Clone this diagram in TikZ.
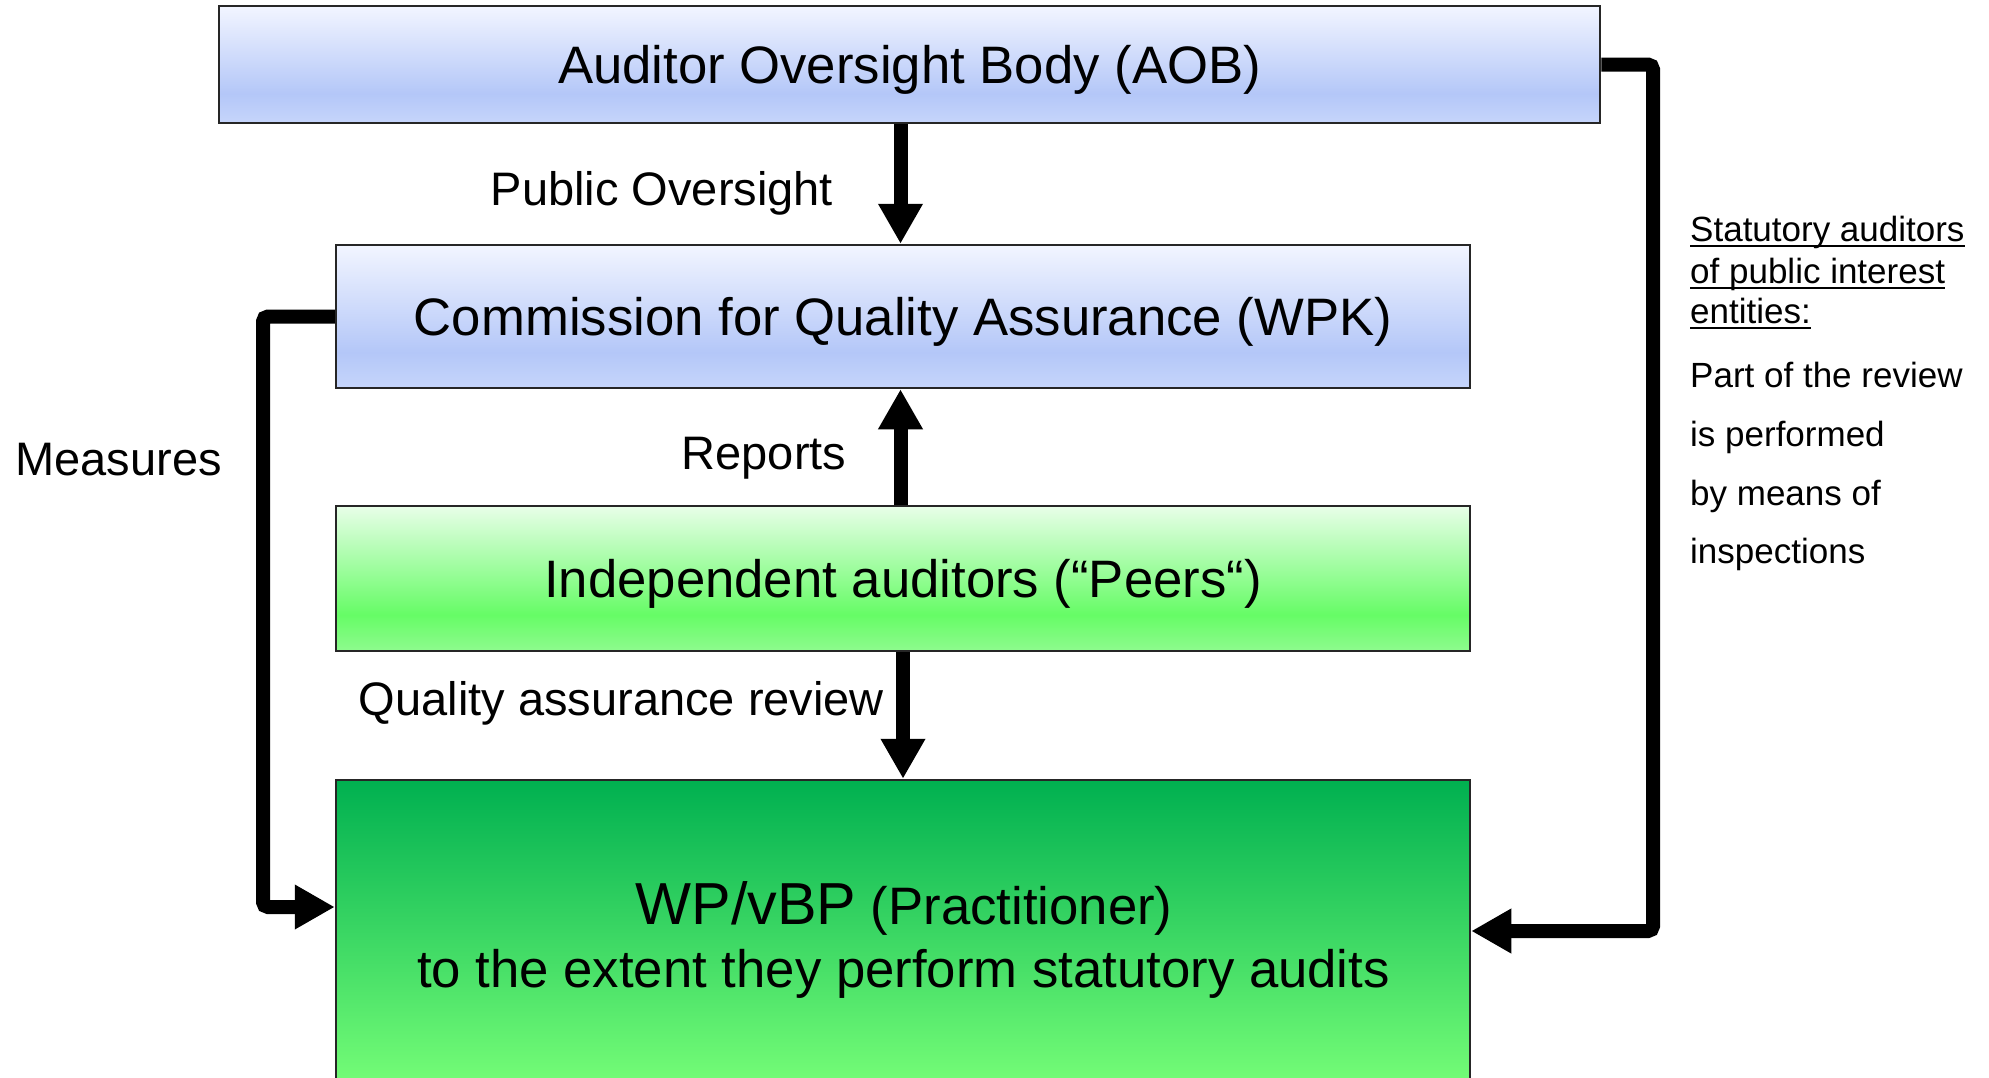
\documentclass[tikz,border=0pt]{standalone}
\usepackage{fontspec}
\setmainfont{Liberation Sans}
\usetikzlibrary{arrows.meta}

% box fills: top of the box is at 75bp, bottom at 25bp
\definecolor{blueTop}{HTML}{F2F5FF}
\definecolor{blueMid}{HTML}{B4C7F8}
\definecolor{blueBot}{HTML}{C6D5FB}
\definecolor{peerTop}{HTML}{E8FEE8}
\definecolor{peerMid}{HTML}{66FC66}
\definecolor{peerBot}{HTML}{8EFB8E}
\definecolor{wpTop}{HTML}{00B050}
\definecolor{wpBot}{HTML}{78FF78}
\pgfdeclareverticalshading{blueshade}{100bp}{color(0bp)=(blueBot); color(25bp)=(blueBot); color(37.5bp)=(blueMid); color(75bp)=(blueTop); color(100bp)=(blueTop)}
\pgfdeclareverticalshading{peershade}{100bp}{color(0bp)=(peerBot); color(25bp)=(peerBot); color(37.5bp)=(peerMid); color(75bp)=(peerTop); color(100bp)=(peerTop)}
\pgfdeclareverticalshading{wpshade}{100bp}{color(0bp)=(wpBot); color(25bp)=(wpBot); color(75bp)=(wpTop); color(100bp)=(wpTop)}

\newlength{\ulwidth}
\newcommand{\ulline}[1]{\settowidth{\ulwidth}{#1}\rlap{\rule[-6pt]{\ulwidth}{2.4pt}}#1}

\tikzset{
  box/.style={draw=black!85, line width=2.5pt, inner sep=0pt, shade,
    text height=38pt, text depth=0pt, font=\fontsize{52.7}{60}\selectfont},
  flow/.style={line width=14pt, rounded corners=5pt,
    -{Triangle[length=40pt,width=42pt]}},
  lbl/.style={anchor=base, inner sep=0pt, font=\fontsize{47}{56}\selectfont},
  note/.style={anchor=base west, inner sep=0pt, font=\fontsize{35}{41}\selectfont},
  bigtext/.style={anchor=base, inner sep=0pt, font=\fontsize{52.7}{60}\selectfont},
}

\begin{document}
\begin{tikzpicture}[x=1pt, y=-1pt]
\clip (0,0) rectangle (1989,1077);
\fill[white] (0,0) rectangle (1989,1077);

% boxes
\node[box, shading=blueshade, minimum width=1381pt, minimum height=117pt]
  (aob) at (909.5,64.5) {Auditor Oversight Body (AOB)};
\node[box, shading=blueshade, minimum width=1134pt, minimum height=143pt]
  (wpk) at (903,316.5) {Commission for Quality Assurance (WPK)};
\node[box, shading=peershade, minimum width=1134pt, minimum height=145pt]
  (peers) at (903,578.5) {Independent auditors (“Peers“)};
\node[box, shading=wpshade, minimum width=1134pt, minimum height=312pt]
  (wp) at (903,936) {};
\node[bigtext] (wpa) at (904,924)
  {{\fontsize{59.3}{66}\selectfont WP/vBP} (Practitioner)};
\node[bigtext] (wpb) at (903.5,987) {to the extent they perform statutory audits};

% vertical connectors
\draw[flow] ([xshift=-2.5pt]wpk.north |- aob.south) -- ([xshift=-2.5pt]wpk.north);
\draw[flow] ([xshift=-2.5pt]peers.north) -- ([xshift=-2.5pt]wpk.south);
\draw[flow] (peers.south) -- (wp.north);

% feedback loops
\coordinate (lj) at (263,907);
\draw[flow] (wpk.west) -| (lj) -- (lj -| wp.west);
\coordinate (rj) at (1653,931);
\draw[flow] (aob.east) -| (rj) -- (rj -| wp.east);

% connector labels
\node[lbl] (lpo) at (662,205) {Public Oversight};
\node[lbl] (lrep) at (764,469) {Reports};
\node[lbl] (lqa) at (621.5,715) {Quality assurance review};
\node[lbl] (lmeas) at (118.5,475) {Measures};

% side note
\node[note] (n1) at (1690,241) {\ulline{Statutory auditors}};
\node[note] (n2) at (1690,283) {\ulline{of public interest}};
\node[note] (n3) at (1690,323) {\ulline{entities:}};
\node[note] (n4) at (1690,387) {Part of the review};
\node[note] (n5) at (1690,446) {is performed};
\node[note] (n6) at (1690,505) {by means of};
\node[note] (n7) at (1690,563) {inspections};
\end{tikzpicture}
\end{document}
